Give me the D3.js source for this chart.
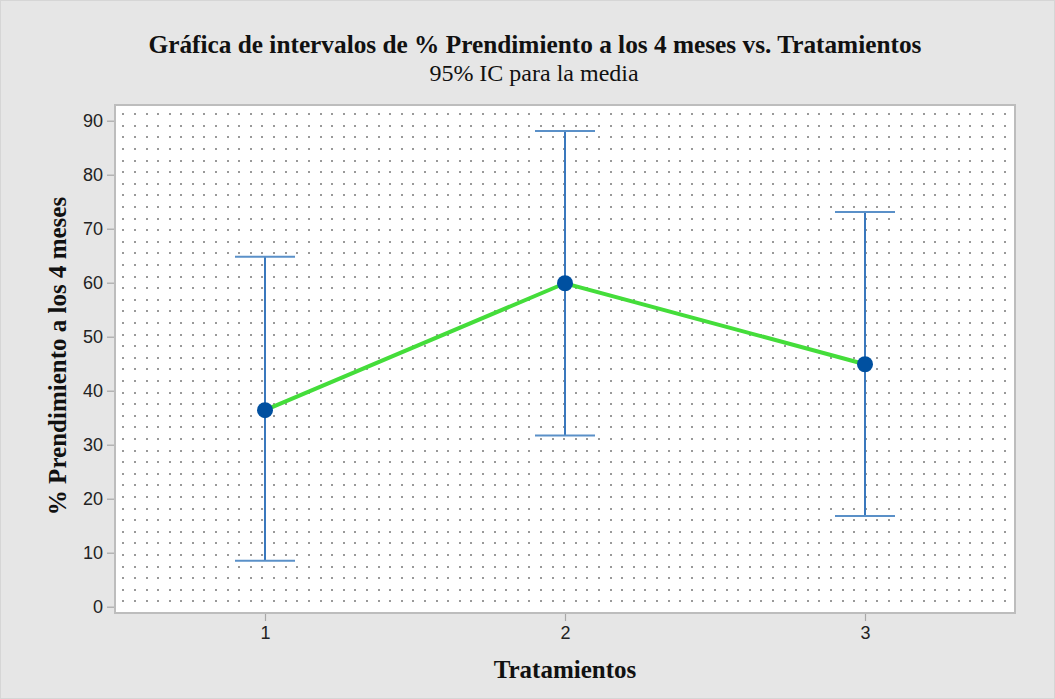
<!DOCTYPE html>
<html><head><meta charset="utf-8">
<script src="https://cdn.jsdelivr.net/npm/d3@7"></script>
<style>body{margin:0;background:#e6e6e6}svg{display:block}</style>
</head><body>
<svg id="c" width="1055" height="699"></svg>
<script>
const categories = [1, 2, 3];
const means = [36.4, 59.9, 44.9];
const lower = [8.5, 31.7, 16.8];
const upper = [64.8, 88.1, 73.1];
const yTicks = [0, 10, 20, 30, 40, 50, 60, 70, 80, 90];
const title = "Gráfica de intervalos de % Prendimiento a los 4 meses vs. Tratamientos";
const subtitle = "95% IC para la media";
const xLabel = "Tratamientos";
const yLabel = "% Prendimiento a los 4 meses";

const svg = d3.select("#c");
const L = 115, R = 1015, T = 105, B = 613;
svg.append("rect").attr("x",0).attr("y",0).attr("width",1055).attr("height",699).attr("fill","#e6e6e6");
svg.append("rect").attr("x",0.5).attr("y",0.5).attr("width",1054).attr("height",698).attr("fill","none").attr("stroke","#d6d6d6");

const x = d3.scaleLinear().domain([0.5, 3.5]).range([L, R]);
const y = d3.scaleLinear().domain([0, 90]).range([606.7, 120.7]);

svg.append("rect").attr("x",L).attr("y",T).attr("width",R-L).attr("height",B-T).attr("fill","#fff");

// dot grid
const g = svg.append("g");
const step = 11.6;
for (let yy = B; yy >= T + 6; yy -= step) {
  for (let xx = 123.3; xx <= R - 6; xx += step) {
    g.append("rect").attr("x",Math.round(xx)-1).attr("y",Math.round(yy)-1).attr("width",2).attr("height",2).attr("fill","#999");
  }
}

// frame
svg.append("rect").attr("x",L).attr("y",T).attr("width",R-L).attr("height",B-T).attr("fill","none").attr("stroke","#bdbdbd").attr("stroke-width",2);

// axes
const yAxis = svg.append("g").attr("transform",`translate(${L-1},0)`)
  .call(d3.axisLeft(y).tickValues(yTicks).tickSize(7).tickPadding(4));
const xAxis = svg.append("g").attr("transform",`translate(0,${B+1})`)
  .call(d3.axisBottom(x).tickValues(categories).tickSize(7).tickPadding(5).tickFormat(d3.format("d")));
[yAxis, xAxis].forEach(a => {
  a.select(".domain").remove();
  a.selectAll(".tick line").attr("stroke","#a8a8a8").attr("stroke-width",1.2);
  a.selectAll(".tick text").attr("fill","#222").style("font-family","'Liberation Sans', Arial, sans-serif").style("font-size","18px");
});

// error bars
const eb = svg.append("g");
categories.forEach((c, i) => {
  eb.append("line").attr("x1",x(c)).attr("x2",x(c)).attr("y1",y(lower[i])).attr("y2",y(upper[i]))
    .attr("stroke","#3a78bd").attr("stroke-width",2);
  [lower[i], upper[i]].forEach(v => {
    eb.append("line").attr("x1",x(c)-30).attr("x2",x(c)+30).attr("y1",y(v)).attr("y2",y(v))
      .attr("stroke","#5a90c8").attr("stroke-width",2);
  });
});

// connecting line
svg.append("path").datum(categories.map((c,i)=>[c,means[i]]))
  .attr("d", d3.line().x(d=>x(d[0])).y(d=>y(d[1])))
  .attr("fill","none").attr("stroke","#44dd3a").attr("stroke-width",4);

// points
svg.append("g").selectAll("circle").data(categories).join("circle")
  .attr("cx",d=>x(d)).attr("cy",(d,i)=>y(means[i])).attr("r",8).attr("fill","#0050a0");

// texts
const serif = "'Liberation Serif', 'Times New Roman', serif";
svg.append("text").attr("x",535).attr("y",53).attr("text-anchor","middle")
  .style("font-family",serif).style("font-weight","bold").style("font-size","25.3px").attr("fill","#111").text(title);
svg.append("text").attr("x",534).attr("y",81).attr("text-anchor","middle")
  .style("font-family",serif).style("font-size","24px").attr("fill","#111").text(subtitle);
svg.append("text").attr("x",565).attr("y",678).attr("text-anchor","middle")
  .style("font-family",serif).style("font-weight","bold").style("font-size","25px").attr("fill","#111").text(xLabel);
svg.append("text").attr("transform","translate(66,356) rotate(-90)").attr("text-anchor","middle")
  .style("font-family",serif).style("font-weight","bold").style("font-size","25px").attr("fill","#111").text(yLabel);
</script>
</body></html>
